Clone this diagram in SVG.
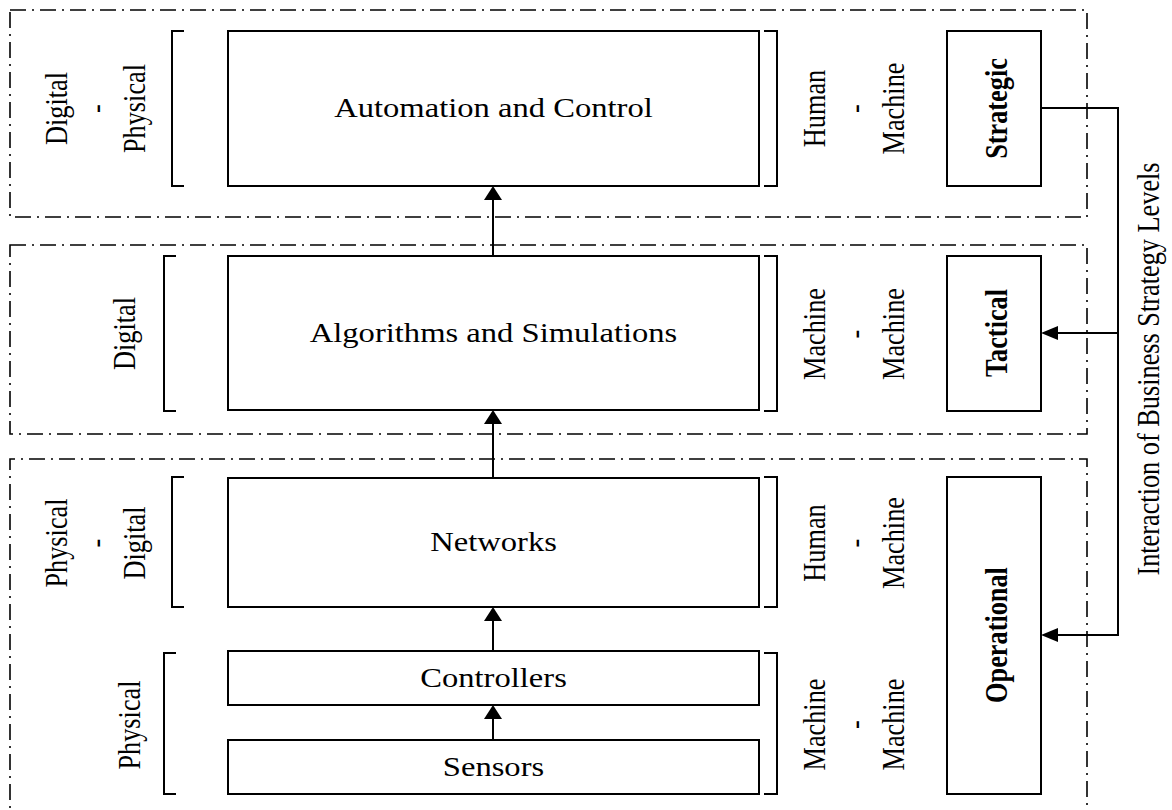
<svg xmlns="http://www.w3.org/2000/svg" width="1172" height="810" viewBox="0 0 1172 810">
<style>
.bg{fill:#fff}
.zone{fill:none;stroke:#000;stroke-width:1.6;stroke-dasharray:16 6 2 6}
.box{fill:#fff;stroke:#000;stroke-width:2}
.br{fill:none;stroke:#000;stroke-width:2}
.con{fill:none;stroke:#000;stroke-width:2}
text{font-family:"Liberation Serif","Times New Roman",serif;font-size:26.3px;fill:#000;text-anchor:middle}
.b{font-weight:bold}
</style>
<defs>
<marker id="ahV" markerUnits="userSpaceOnUse" viewBox="0 0 14 18" markerWidth="14" markerHeight="18" refX="4" refY="9" orient="auto"><path d="M0,0 L14,9 L0,18 Z" fill="#000"/></marker>
<marker id="ahH" markerUnits="userSpaceOnUse" viewBox="0 0 17 14" markerWidth="17" markerHeight="14" refX="7" refY="7" orient="auto"><path d="M0,0 L17,7 L0,14 Z" fill="#000"/></marker>
</defs>
<rect class="bg" x="0" y="0" width="1172" height="810"/>

<g id="zones">
<rect class="zone" x="10" y="10" width="1077" height="207"/>
<rect class="zone" x="10" y="245" width="1077" height="189"/>
<path class="zone" d="M10,830 V459 H1087 V830"/>
</g>

<g id="brackets">
<path class="br" d="M184,31 H172 V186 H184"/>
<path class="br" d="M764,31 H777 V186 H764"/>
<path class="br" d="M176,256 H164 V411 H176"/>
<path class="br" d="M764,256 H777 V411 H764"/>
<path class="br" d="M184,477 H172 V607 H184"/>
<path class="br" d="M764,477 H777 V607 H764"/>
<path class="br" d="M176,653 H164 V794 H176"/>
<path class="br" d="M764,653 H777 V794 H764"/>
</g>

<g id="side-labels">
<text transform="translate(67,108.5) scale(1.24,1) rotate(-90)">Digital</text>
<text transform="translate(106,108.5) scale(1.24,1) rotate(-90)">-</text>
<text transform="translate(145,108.5) scale(1.24,1) rotate(-90)">Physical</text>
<text transform="translate(135,333.5) scale(1.24,1) rotate(-90)">Digital</text>
<text transform="translate(67,543) scale(1.24,1) rotate(-90)">Physical</text>
<text transform="translate(106,543) scale(1.24,1) rotate(-90)">-</text>
<text transform="translate(145,543) scale(1.24,1) rotate(-90)">Digital</text>
<text transform="translate(140,725) scale(1.24,1) rotate(-90)">Physical</text>

<text transform="translate(825,108.5) scale(1.24,1) rotate(-90)">Human</text>
<text transform="translate(864.5,108.5) scale(1.24,1) rotate(-90)">-</text>
<text transform="translate(904,108.5) scale(1.24,1) rotate(-90)">Machine</text>
<text transform="translate(825,334) scale(1.24,1) rotate(-90)">Machine</text>
<text transform="translate(864.5,334) scale(1.24,1) rotate(-90)">-</text>
<text transform="translate(904,334) scale(1.24,1) rotate(-90)">Machine</text>
<text transform="translate(825,543) scale(1.24,1) rotate(-90)">Human</text>
<text transform="translate(864.5,543) scale(1.24,1) rotate(-90)">-</text>
<text transform="translate(904,543) scale(1.24,1) rotate(-90)">Machine</text>
<text transform="translate(825,724.5) scale(1.24,1) rotate(-90)">Machine</text>
<text transform="translate(864.5,724.5) scale(1.24,1) rotate(-90)">-</text>
<text transform="translate(904,724.5) scale(1.24,1) rotate(-90)">Machine</text>

<text transform="translate(1159,369) scale(1.24,1) rotate(-90)">Interaction of Business Strategy Levels</text>
</g>

<g id="automation">
<rect class="box" x="228" y="31" width="531" height="155"/>
<text transform="translate(493.5,117) scale(1.24,1)">Automation and Control</text>
</g>
<g id="algorithms">
<rect class="box" x="228" y="256" width="531" height="154"/>
<text transform="translate(493.5,342) scale(1.24,1)">Algorithms and Simulations</text>
</g>
<g id="networks">
<rect class="box" x="228" y="478" width="531" height="129"/>
<text transform="translate(493.5,551) scale(1.24,1)">Networks</text>
</g>
<g id="controllers">
<rect class="box" x="228" y="651" width="531" height="54"/>
<text transform="translate(493.5,687) scale(1.24,1)">Controllers</text>
</g>
<g id="sensors">
<rect class="box" x="228" y="740" width="531" height="54"/>
<text transform="translate(493.5,776) scale(1.24,1)">Sensors</text>
</g>

<g id="strategic">
<rect class="box" x="947" y="31" width="94" height="155"/>
<text class="b" transform="translate(1007,108.5) scale(1.24,1) rotate(-90)">Strategic</text>
</g>
<g id="tactical">
<rect class="box" x="947" y="256" width="94" height="155"/>
<text class="b" transform="translate(1007,333) scale(1.24,1) rotate(-90)">Tactical</text>
</g>
<g id="operational">
<rect class="box" x="947" y="477" width="94" height="317"/>
<text class="b" transform="translate(1007,635) scale(1.24,1) rotate(-90)">Operational</text>
</g>

<g id="connectors">
<path class="con" d="M493,256 V196" marker-end="url(#ahV)"/>
<path class="con" d="M493,478 V420" marker-end="url(#ahV)"/>
<path class="con" d="M493,651 V617" marker-end="url(#ahV)"/>
<path class="con" d="M493,740 V715" marker-end="url(#ahV)"/>
<path class="con" d="M1041,108 H1118 V635 H1051" marker-end="url(#ahH)"/>
<path class="con" d="M1118,333 H1051" marker-end="url(#ahH)"/>
</g>
</svg>
